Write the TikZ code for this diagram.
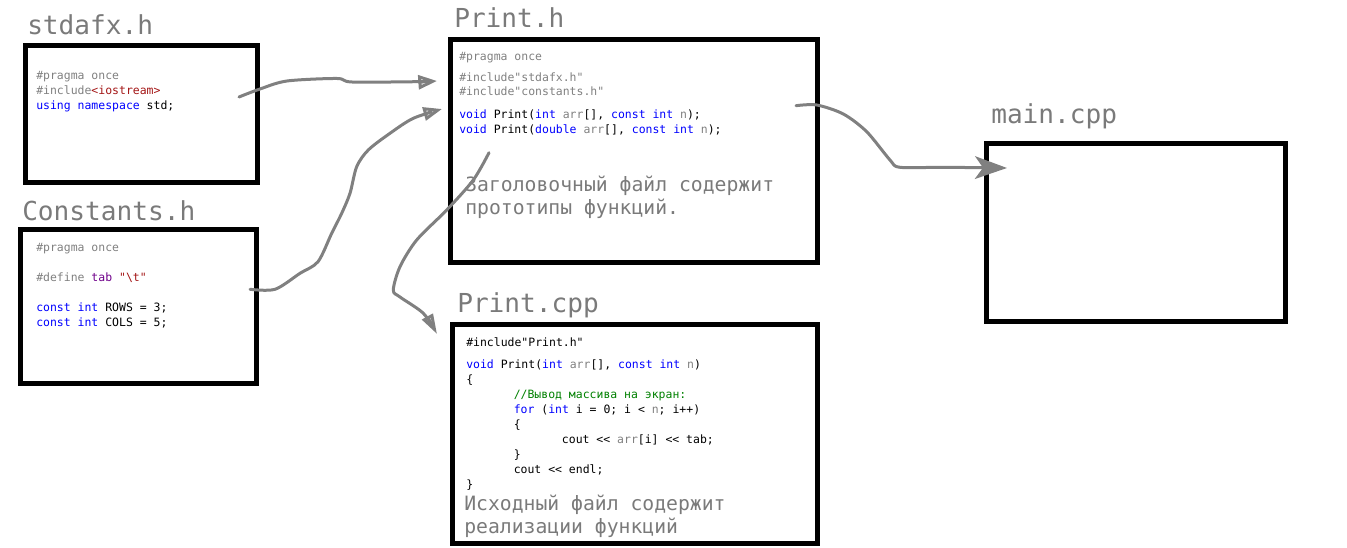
\documentclass[tikz,border=0pt]{standalone}
\usepackage{fontspec}
\setmonofont{DejaVu Sans Mono}
\usepackage{tikz}
\usetikzlibrary{arrows.meta}
\definecolor{clrKw}{RGB}{0,0,255}
\definecolor{clrPp}{RGB}{128,128,128}
\definecolor{clrStr}{RGB}{163,21,21}
\definecolor{clrMac}{RGB}{111,0,138}
\definecolor{clrCom}{RGB}{0,128,0}
\definecolor{clrTtl}{RGB}{122,122,122}
\definecolor{clrArr}{RGB}{128,128,128}
\newcommand{\kwd}[1]{\textcolor{clrKw}{#1}}
\newcommand{\ppc}[1]{\textcolor{clrPp}{#1}}
\newcommand{\cstr}[1]{\textcolor{clrStr}{#1}}
\newcommand{\cmac}[1]{\textcolor{clrMac}{#1}}
\newcommand{\ccom}[1]{\textcolor{clrCom}{#1}}

\begin{document}
\begin{tikzpicture}[x=0.75pt,y=-0.75pt,
  filebox/.style={draw,line width=3.75pt,inner sep=0pt},
  fname/.style={anchor=base west,inner sep=0pt,text=clrTtl,
    font=\ttfamily\fontsize{19.6pt}{22pt}\selectfont},
  codeln/.style={anchor=base west,inner sep=0pt,
    font=\ttfamily\fontsize{8.6pt}{10pt}\selectfont},
  note/.style={anchor=base west,inner sep=0pt,text=clrTtl,
    font=\ttfamily\fontsize{14.8pt}{17pt}\selectfont},
  dep/.style={draw=clrArr,line width=2.25pt,line cap=round,line join=round}]
  \useasboundingbox (0,0) rectangle (1347,548);

  % file boxes
  \node[filebox,minimum width=174pt,minimum height=102.4pt] (stdafx) at (141.5,114.25) {};
  \node[filebox,minimum width=177pt,minimum height=115.5pt] (consts) at (138.5,307) {};
  \node[filebox,minimum width=275.6pt,minimum height=167.25pt] (printh) at (633.75,151) {};
  \node[filebox,minimum width=273.75pt,minimum height=164.6pt] (printcpp) at (634.5,434.25) {};
  \node[filebox,minimum width=223.9pt,minimum height=133.6pt] (maincpp) at (1135.75,232.6) {};

  % file names
  \node[fname] (tstdafx) at (27,35) {stdafx.h};
  \node[fname] (tconsts) at (22,220.7) {Constants.h};
  \node[fname] (tprinth) at (454,28) {Print.h};
  \node[fname] (tprintcpp) at (457,313) {Print.cpp};
  \node[fname] (tmaincpp) at (991,123.3) {main.cpp};

  % stdafx.h
  \foreach \y/\txt [count=\k] in {%
    80/{\ppc{\#pragma once}},
    95/{\ppc{\#include}\cstr{<iostream>}},
    110/{\kwd{using namespace} std;}}{
      \node[codeln] (sdl\k) at (36,\y) {\txt};
  }

  % Constants.h
  \foreach \y/\txt [count=\k] in {%
    251.7/{\ppc{\#pragma once}},
    281.7/{\ppc{\#define} \cmac{tab} \cstr{"\textbackslash t"}},
    311.7/{\kwd{const int} ROWS = 3;},
    326.7/{\kwd{const int} COLS = 5;}}{
      \node[codeln] (csl\k) at (36,\y) {\txt};
  }

  % Print.h
  \foreach \y/\txt [count=\k] in {%
    61/{\ppc{\#pragma once}},
    81.7/{\ppc{\#include"stdafx.h"}},
    95.7/{\ppc{\#include"constants.h"}},
    119/{\kwd{void} Print(\kwd{int} \ppc{arr}[], \kwd{const int} \ppc{n});},
    133.3/{\kwd{void} Print(\kwd{double} \ppc{arr}[], \kwd{const int} \ppc{n});}}{
      \node[codeln] (phl\k) at (459,\y) {\txt};
  }
  \node[note] (phn1) at (465,192) {Заголовочный файл содержит};
  \node[note] (phn2) at (465,215) {прототипы функций.};

  % Print.cpp
  \foreach \y/\dx/\txt [count=\k] in {%
    347/0/{\#include"Print.h"},
    369/0/{\kwd{void} Print(\kwd{int} \ppc{arr}[], \kwd{const int} \ppc{n})},
    384/0/{\{},
    399/47.5/{\ccom{//Вывод массива на экран:}},
    414/47.5/{\kwd{for} (\kwd{int} i = 0; i < \ppc{n}; i++)},
    429/47.5/{\{},
    444/95.7/{cout <{}< \ppc{arr}[i] <{}< tab;},
    459/47.5/{\}},
    474/47.5/{cout <{}< endl;},
    489/0/{\}}}{
      \node[codeln] (pcl\k) at (466+\dx,\y) {\txt};
  }
  \node[note] (pcn1) at (464,511) {Исходный файл содержит};
  \node[note] (pcn2) at (464,534) {реализации функций};

  % connectors
  \coordinate (a1s) at (239,97);
  \coordinate (a1e) at (437,81);
  \coordinate (a2s) at (250,289.3);
  \coordinate (a2e) at (442,109);
  \coordinate (a3s) at (489,152.7);
  \coordinate (a3e) at (437,334);
  \coordinate (a4s) at (796,105.7);
  \coordinate (a4e) at (1007,168);

  \draw[dep,-{Triangle[open,length=14pt,width=10.5pt]}]
    plot[smooth,tension=0.5] coordinates {(a1s) (260,89) (287,81) (337,78.5) (352,82) (417,81.7) (a1e)};
  \draw[dep,-{Triangle[open,length=14pt,width=10pt]}]
    plot[smooth,tension=0.5] coordinates {(a2s) (275,289.3) (300,273.3) (318,261.7) (331.7,233.3) (341.7,213.3) (350,193.3) (356.7,166.7) (368.3,150) (390,133.3) (413.3,118.3) (a2e)};
  \draw[dep,-{Triangle[open,length=15pt,width=9pt]}]
    plot[smooth,tension=0.5] coordinates {(a3s) (473.3,180) (446.7,210) (416.7,240) (400,266.7) (393.3,290) (400,297) (423.3,313.3) (a3e)};
  \draw[dep,-{Stealth[length=24pt,width=17pt,inset=6pt]}]
    plot[smooth,tension=0.5] coordinates {(a4s) (816.7,105) (843.3,114) (866.7,131.7) (890,160) (900,167.3) (943.3,167.3) (a4e)};
\end{tikzpicture}
\end{document}
